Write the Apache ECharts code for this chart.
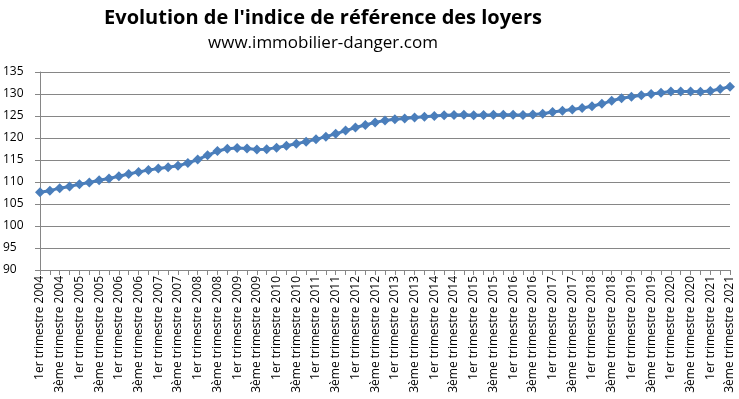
<!DOCTYPE html>
<html>
<head>
<meta charset="utf-8">
<script src="https://cdn.jsdelivr.net/npm/echarts@6/dist/echarts.min.js"></script>
<style>
  html, body { margin: 0; padding: 0; background: #fff; }
  #main { width: 739px; height: 399px; }
</style>
</head>
<body>
<div id="main"></div>
<script>
// années et trimestres
var years = [2004, 2005, 2006, 2007, 2008, 2009, 2010, 2011, 2012, 2013, 2014, 2015, 2016, 2017, 2018, 2019, 2020, 2021];
var quarterNames = ['1er', '2ème', '3ème', '4ème'];

// valeurs de l'IRL, par trimestre
var irl = [
  107.66, 108.03, 108.6, 109.0,
  109.5, 109.9, 110.4, 110.8,
  111.3, 111.8, 112.3, 112.7,
  113.07, 113.37, 113.68, 114.30,
  115.12, 116.07, 117.03, 117.54,
  117.70, 117.59, 117.41, 117.47,
  117.81, 118.26, 118.70, 119.17,
  119.69, 120.31, 120.95, 121.68,
  122.37, 122.96, 123.55, 123.97,
  124.25, 124.44, 124.66, 124.83,
  125.00, 125.15, 125.24, 125.29,
  125.19, 125.25, 125.26, 125.28,
  125.26, 125.25, 125.33, 125.50,
  125.90, 126.19, 126.46, 126.82,
  127.22, 127.77, 128.45, 129.03,
  129.38, 129.72, 129.99, 130.26,
  130.57, 130.57, 130.59, 130.52,
  130.69, 131.12, 131.67
];

var categories = [];
years.forEach(function (y) {
  quarterNames.forEach(function (q) {
    if (categories.length < irl.length) categories.push(q + ' trimestre ' + y);
  });
});

var chart = echarts.init(document.getElementById('main'));
chart.setOption({
  animation: false,
  textStyle: { fontFamily: 'Open Sans' },
  title: [
    {
      text: "Evolution de l'indice de référence des loyers",
      left: 318, top: 3, textAlign: 'center',
      textStyle: { fontSize: 20, fontWeight: 'bold', color: '#000', fontFamily: 'Open Sans' }
    },
    {
      text: 'www.immobilier-danger.com',
      left: 318, top: 30, textAlign: 'center',
      textStyle: { fontSize: 17, fontWeight: 'normal', color: '#000', fontFamily: 'Open Sans' }
    }
  ],
  grid: { left: 37, right: 9, top: 72, bottom: 129, containLabel: false },
  xAxis: {
    type: 'category',
    data: categories,
    boundaryGap: false,
    axisLine: { lineStyle: { color: '#868686', width: 1 } },
    axisTick: { show: true, interval: 0, length: 5, lineStyle: { color: '#868686' } },
    axisLabel: { rotate: 90, interval: 1, color: '#000', fontSize: 12, margin: 6 }
  },
  yAxis: {
    type: 'value',
    min: 90, max: 135, interval: 5,
    axisLine: { show: true, lineStyle: { color: '#868686' } },
    axisTick: { show: true, length: 5, lineStyle: { color: '#868686' } },
    splitLine: { lineStyle: { color: '#868686', width: 1 } },
    axisLabel: { color: '#000', fontSize: 12, align: 'left', margin: 37 }
  },
  series: [{
    type: 'line',
    data: irl,
    symbol: 'diamond',
    symbolSize: 10,
    showAllSymbol: true,
    lineStyle: { color: '#4A7EBB', width: 3 },
    itemStyle: { color: '#4A7EBB' }
  }]
});
</script>
</body>
</html>
